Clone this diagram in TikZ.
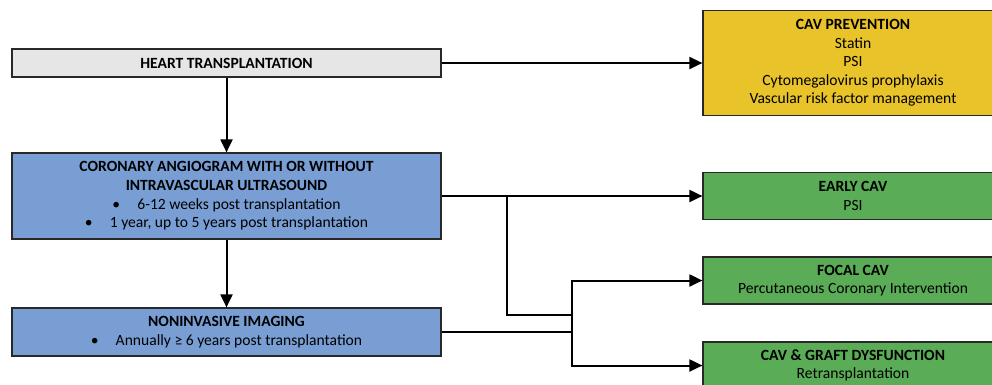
\documentclass[tikz,border=0pt]{standalone}
\usepackage{fontspec}
\setmainfont{Carlito}
\usetikzlibrary{arrows.meta,positioning,calc}
\definecolor{htgray}{RGB}{230,230,230}
\definecolor{exblue}{RGB}{120,158,212}
\definecolor{txgreen}{RGB}{90,172,86}
\definecolor{pvyellow}{RGB}{233,195,42}
\definecolor{edge}{RGB}{40,40,40}
\tikzset{
  stage/.style={draw=edge,line width=1.2pt,align=center,minimum width=429pt,inner sep=1pt},
  outcome/.style={draw=edge,line width=1.2pt,align=center,minimum width=300pt,minimum height=47pt,inner sep=1pt,fill=txgreen},
  arr/.style={-{Triangle[length=13pt,width=12pt]},line width=2pt},
  wire/.style={line width=2pt}
}
\begin{document}
\begin{tikzpicture}[x=1pt,y=-1pt,font=\fontsize{15.6}{18.6}\selectfont]
\useasboundingbox (0,0) rectangle (992,384);
\clip (0,0) rectangle (992,384);
\node[stage,fill=htgray,minimum height=28pt] (heart) at (226.5,63) {\textbf{HEART TRANSPLANTATION}};
\node[stage,fill=exblue,minimum height=86pt] (cor) at (226.5,196) {\textbf{CORONARY ANGIOGRAM WITH OR WITHOUT}\\\textbf{INTRAVASCULAR ULTRASOUND}\\\textbullet\hspace{1.1em}6-12 weeks post transplantation\\\textbullet\hspace{1.1em}1 year, up to 5 years post transplantation};
\node[stage,fill=exblue,minimum height=48pt] (noninv) at (226.5,332) {\textbf{NONINVASIVE IMAGING}\\\textbullet\hspace{1.1em}Annually ≥ 6 years post transplantation};
\node[outcome,fill=pvyellow,minimum height=105pt] (prev) at (853,63) {\textbf{CAV PREVENTION}\\Statin\\PSI\\Cytomegalovirus prophylaxis\\Vascular risk factor management};
\node[outcome] (early) at (853,196) {\textbf{EARLY CAV}\\PSI};
\node[outcome] (focal) at (853,280.5) {\textbf{FOCAL CAV}\\Percutaneous Coronary Intervention};
\node[outcome] (graft) at (853,365.5) {\textbf{CAV \& GRAFT DYSFUNCTION}\\Retransplantation};
\coordinate (tap) at (507,196);
\coordinate (merge) at (572,315);
\coordinate (fork) at (572,332);
\draw[arr] (heart) -- (prev);
\draw[arr] (heart) -- (cor);
\draw[arr] (cor) -- (noninv);
\draw[arr] (cor.east) -- (early.west);
\draw[wire] (tap) |- (merge);
\draw[wire] (noninv.east) -- (fork);
\draw[arr] (fork) |- (focal.west);
\draw[arr] (fork) |- (graft.west);
\end{tikzpicture}
\end{document}
